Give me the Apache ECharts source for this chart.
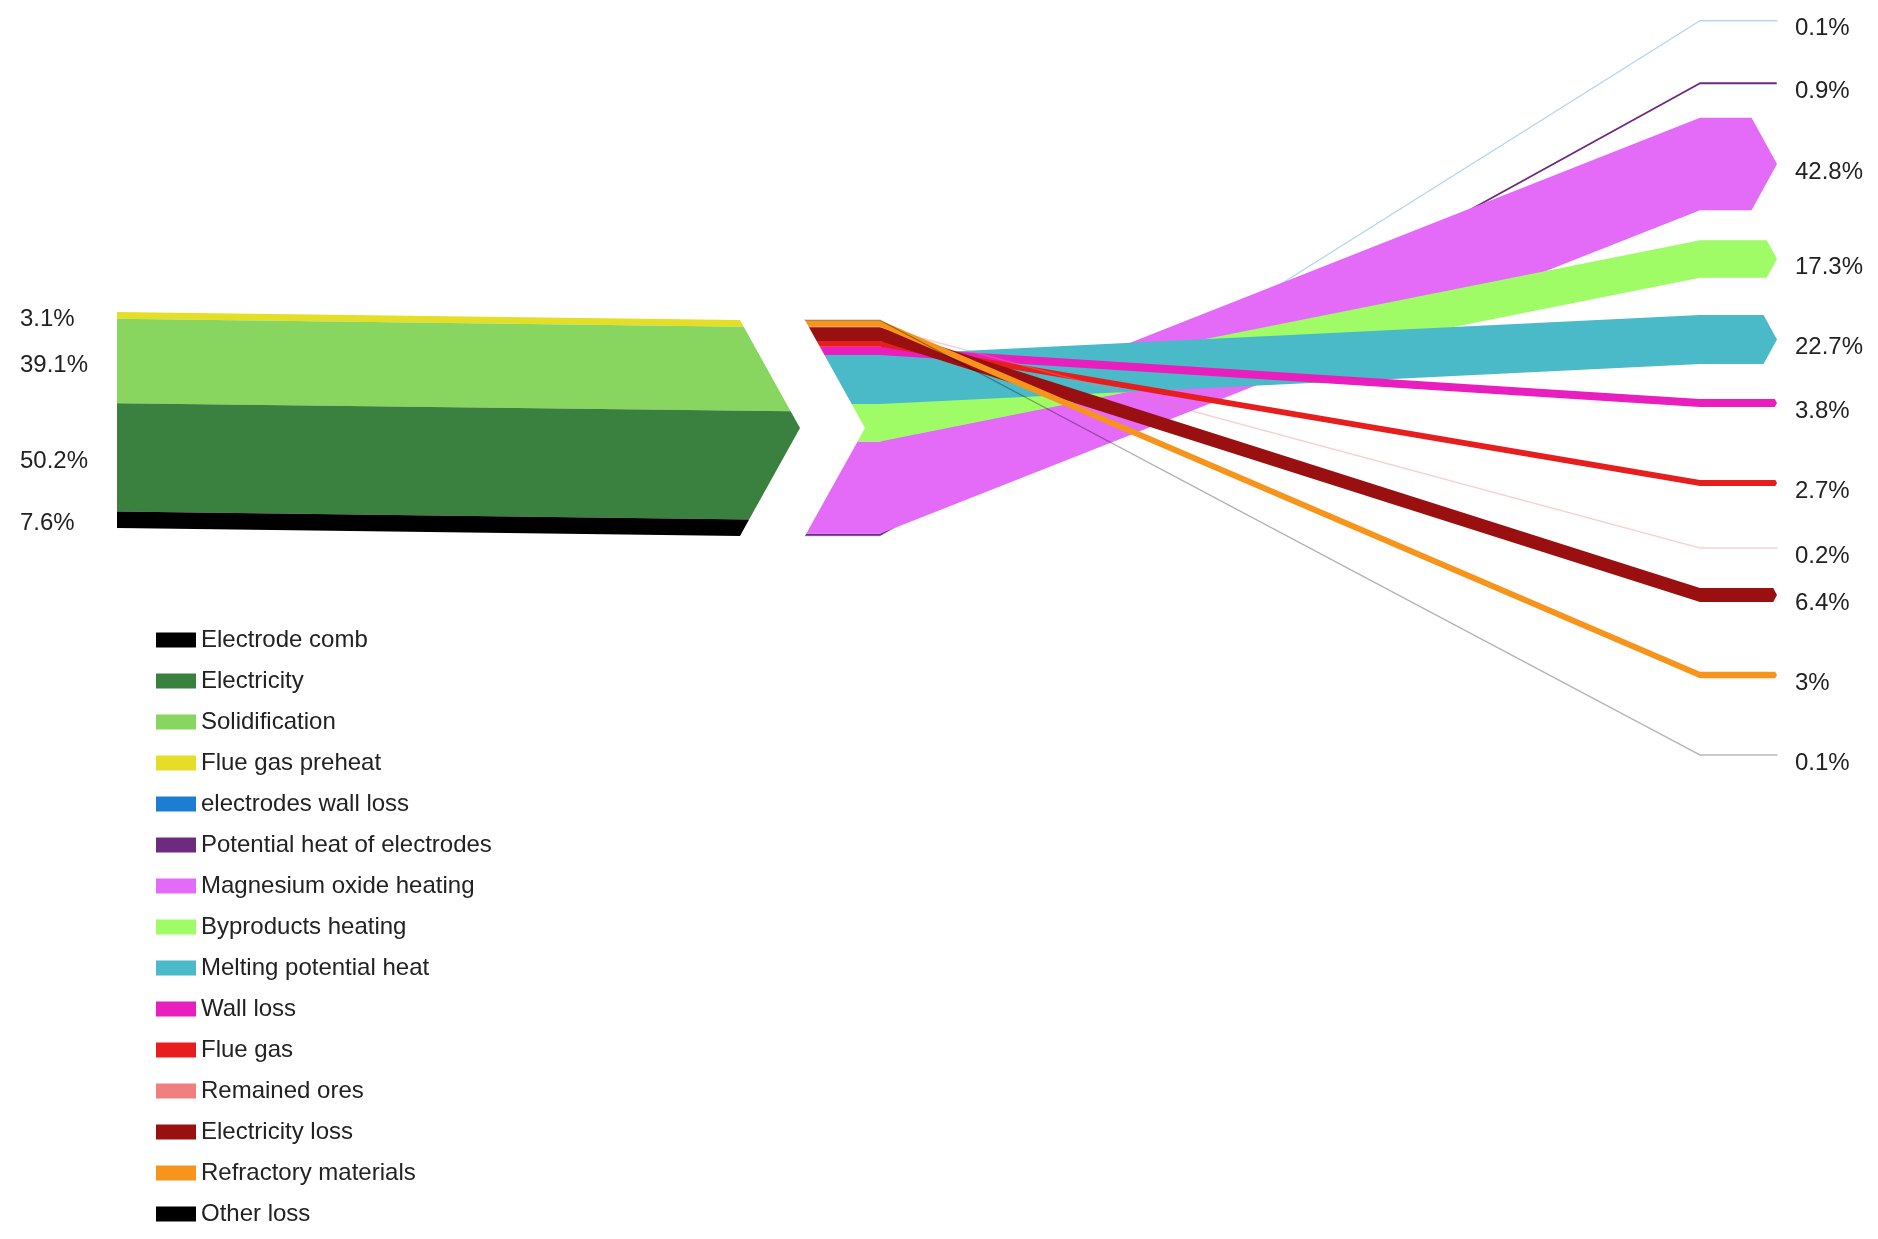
<!DOCTYPE html>
<html>
<head>
<meta charset="utf-8">
<title>Energy flow</title>
<script src="https://cdn.jsdelivr.net/npm/echarts@6/dist/echarts.min.js"></script>
<style>
  html, body { margin: 0; padding: 0; background: #ffffff; }
  #flow { width: 1878px; height: 1239px; }
</style>
</head>
<body>
<div id="flow"></div>
<script>
// inputs, stacked top to bottom in the left block (%)
const inputNames  = ['Flue gas preheat', 'Solidification', 'Electricity', 'Electrode comb'];
const inputValues = [3.1, 39.1, 50.2, 7.6];

// outputs, stacked top to bottom where they leave the middle node (%)
const outputNames  = ['Other loss', 'Refractory materials', 'Remained ores', 'Electricity loss', 'Flue gas',
                      'Wall loss', 'Melting potential heat', 'Byproducts heating', 'Magnesium oxide heating',
                      'Potential heat of electrodes', 'electrodes wall loss'];
const outputValues = [0.1, 3, 0.2, 6.4, 2.7, 3.8, 22.7, 17.3, 42.8, 0.9, 0.1];

// legend order
const legendNames = ['Electrode comb', 'Electricity', 'Solidification', 'Flue gas preheat', 'electrodes wall loss',
                     'Potential heat of electrodes', 'Magnesium oxide heating', 'Byproducts heating',
                     'Melting potential heat', 'Wall loss', 'Flue gas', 'Remained ores', 'Electricity loss',
                     'Refractory materials', 'Other loss'];

const colors = {
  'Electrode comb': '#000000',
  'Electricity': '#3a803e',
  'Solidification': '#88d660',
  'Flue gas preheat': '#e4de26',
  'electrodes wall loss': '#1c7ed0',
  'Potential heat of electrodes': '#6e2a7e',
  'Magnesium oxide heating': '#e46af8',
  'Byproducts heating': '#a0fc66',
  'Melting potential heat': '#4bbac8',
  'Wall loss': '#e81fbe',
  'Flue gas': '#e61e1e',
  'Remained ores': '#f08080',
  'Electricity loss': '#9a1010',
  'Refractory materials': '#f7941c',
  'Other loss': '#000000'
};

// ---- layout (x in px, y in % units of the stack) ----
const PX = 2.16;                 // px per 1 %
const yMax = 1239 / PX;
const leftX = 117, leftArrow = 740, chevron = 60;
const leftTopL = 312 / PX, leftTopR = 320 / PX;
const notchLeft = 805, bendL = 880, bendR = 1700, tipX = 1777;
const midTop = 320 / PX;
// where each output ends on the right (centre, % units from the top)
const outputEnds = [755, 675, 548, 595, 483, 403, 339.5, 259, 164, 83.3, 20.7].map(v => v / PX);
const leftLabelX = 20, rightLabelX = 1795;
const font = '"Liberation Sans", Arial, sans-serif';

// draw order of the outputs (thin ones under the big bands, lines on top)
const drawOrder = [10, 9, 8, 7, 6, 5, 4, 2, 3, 1, 0];

function cumsum(arr) {
  let s = 0;
  return arr.map(v => { const c = s; s += v; return c; });
}
const inStart = cumsum(inputValues);
const outStart = cumsum(outputValues);

function pct(v) { return v + '%'; }

function bandStyle(color, v) {
  // hairline flows show up as faint lines
  if (v < 0.5) return { fill: color, stroke: color, lineWidth: 1.2, opacity: 0.28 };
  return { fill: color };
}

function inputItem(i) {
  return function (params, api) {
    const a = inStart[i], b = a + inputValues[i];
    const midR = leftTopR + 50;
    const ax = y => leftArrow + chevron * (1 - Math.abs(y - midR) / 50);
    const r0 = leftTopR + a, r1 = leftTopR + b;
    const pts = [[leftX, leftTopL + a], [ax(r0), r0]];
    if (r0 < midR && r1 > midR) pts.push([leftArrow + chevron, midR]);
    pts.push([ax(r1), r1], [leftX, leftTopL + b]);
    const c = api.coord([leftLabelX, leftTopL + a + inputValues[i] / 2]);
    return {
      type: 'group',
      children: [
        { type: 'polygon', shape: { points: pts.map(p => api.coord(p)) },
          style: bandStyle(colors[inputNames[i]], inputValues[i]) },
        { type: 'text', style: { text: pct(inputValues[i]), x: c[0], y: c[1] + 4,
          fill: '#222', fontSize: 24, fontFamily: font, verticalAlign: 'middle', align: 'left' } }
      ]
    };
  };
}

function outputItem(i) {
  return function (params, api) {
    const s0 = midTop + outStart[i], s1 = s0 + outputValues[i];
    const mid = midTop + 50;
    const nx = y => notchLeft + chevron * (1 - Math.abs(y - mid) / 50);
    const c = outputEnds[i], h = outputValues[i] / 2;
    const d = 0.55 * h * api.size([0, 1])[1];
    const pts = [
      [nx(s0), s0], [bendL, s0], [bendR, c - h], [tipX - d, c - h], [tipX, c],
      [tipX - d, c + h], [bendR, c + h], [bendL, s1], [nx(s1), s1]
    ];
    if (s0 < mid && s1 > mid) pts.push([notchLeft + chevron, mid]);
    const lp = api.coord([rightLabelX, c]);
    return {
      type: 'group',
      children: [
        { type: 'polygon', shape: { points: pts.map(p => api.coord(p)) },
          style: bandStyle(colors[outputNames[i]], outputValues[i]) },
        { type: 'text', style: { text: pct(outputValues[i]), x: lp[0], y: lp[1] + 8,
          fill: '#222', fontSize: 24, fontFamily: font, verticalAlign: 'middle', align: 'left' } }
      ]
    };
  };
}

const series = [];
inputNames.forEach((name, i) => {
  series.push({ name: name, type: 'custom', renderItem: inputItem(i), data: [[inputValues[i]]],
    itemStyle: { color: colors[name] }, silent: true });
});
drawOrder.forEach(i => {
  const name = outputNames[i];
  series.push({ name: name, type: 'custom', renderItem: outputItem(i), data: [[outputValues[i]]],
    itemStyle: { color: colors[name] }, silent: true });
});

const chart = echarts.init(document.getElementById('flow'));
chart.setOption({
  animation: false,
  backgroundColor: '#ffffff',
  grid: { left: 0, right: 0, top: 0, bottom: 0 },
  xAxis: { type: 'value', min: 0, max: 1878, show: false },
  yAxis: { type: 'value', min: 0, max: yMax, inverse: true, show: false },
  legend: {
    orient: 'vertical',
    left: 151,
    top: 623,
    icon: 'rect',
    itemWidth: 40,
    itemHeight: 15,
    itemGap: 17,
    data: legendNames,
    selectedMode: false,
    textStyle: { fontSize: 24, fontFamily: font, color: '#222', lineHeight: 24 }
  },
  series: series
});
</script>
</body>
</html>
